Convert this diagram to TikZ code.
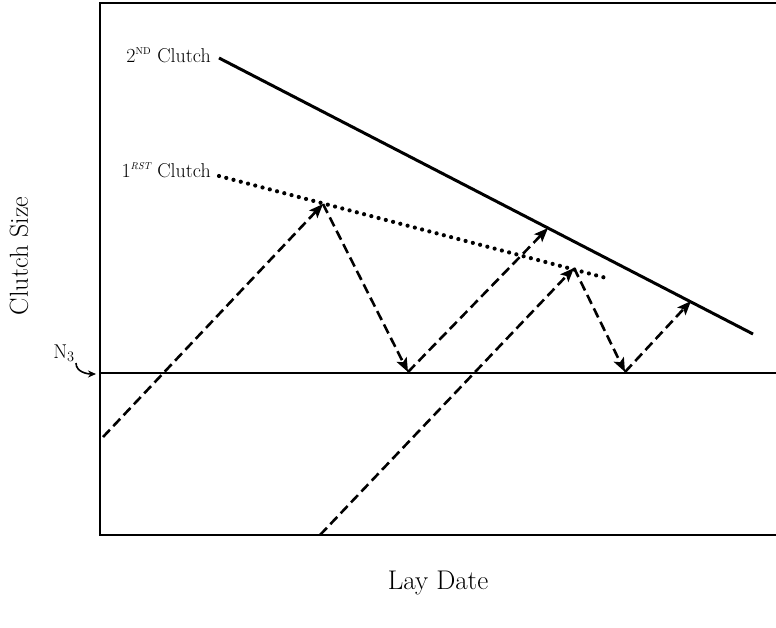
\documentclass[tikz,border=0pt]{standalone}
\usepackage{tikz}
\usetikzlibrary{arrows.meta}
\tikzset{
  frame/.style={line width=2.4pt},
  clutchtwo/.style={line width=3pt},
  clutchone/.style={line width=4.2pt, line cap=round, dash pattern=on 0pt off 7.5pt},
  route/.style={line width=2.6pt, dash pattern=on 10pt off 5pt, -{Stealth[length=14pt,width=11pt,inset=3pt]}},
  lbl/.style={font=\fontsize{20}{24}\selectfont, inner sep=1pt}
}
\begin{document}
\begin{tikzpicture}[x=1pt,y=1pt]
\useasboundingbox (0,-627) rectangle (776,0);
% axes:
\draw[frame] (777,-3) -- (100,-3) -- (100,-535) -- (777,-535);
\coordinate (n3) at (100,-373);
\draw[line width=2pt] (n3) -- (777,-373);
% clutch lines:
\coordinate (two0) at (219,-58);
\coordinate (two1) at (753,-334);
\draw[clutchtwo] (two0) -- (two1);
\coordinate (one0) at (219,-176);
\coordinate (one1) at (610,-279);
\draw[clutchone] (one0) -- (one1);
\node[lbl, anchor=east] (lab2) at (212,-55) {2\textsuperscript{\normalsize ND} Clutch};
\node[lbl, anchor=east] (lab1) at (212,-170) {1\textsuperscript{\normalsize\itshape RST} Clutch};
% turning points:
\coordinate (a0) at (103,-437);
\coordinate (a1) at (323,-204);
\coordinate (a2) at (408,-372);
\coordinate (a3) at (548,-228);
\coordinate (b0) at (320,-535);
\coordinate (b1) at (574,-268);
\coordinate (b2) at (625,-372);
\coordinate (b3) at (691,-301);
\draw[route] (a0) -- (a1);
\draw[route] (a1) -- (a2);
\draw[route] (a2) -- (a3);
\draw[route] (b0) -- (b1);
\draw[route] (b1) -- (b2);
\draw[route] (b2) -- (b3);
% labels:
\node[lbl] (n3lab) at (64,-353) {N$_3$};
\draw[line width=1.6pt, -{Stealth[length=8pt,width=7pt]}] (76,-363) to[out=-90,in=180] (96,-374);
\node[font=\fontsize{26}{30}\selectfont, rotate=90] (ylab) at (19,-256) {Clutch Size};
\node[font=\fontsize{27}{30}\selectfont] (xlab) at (438,-583) {Lay Date};
\end{tikzpicture}
\end{document}
